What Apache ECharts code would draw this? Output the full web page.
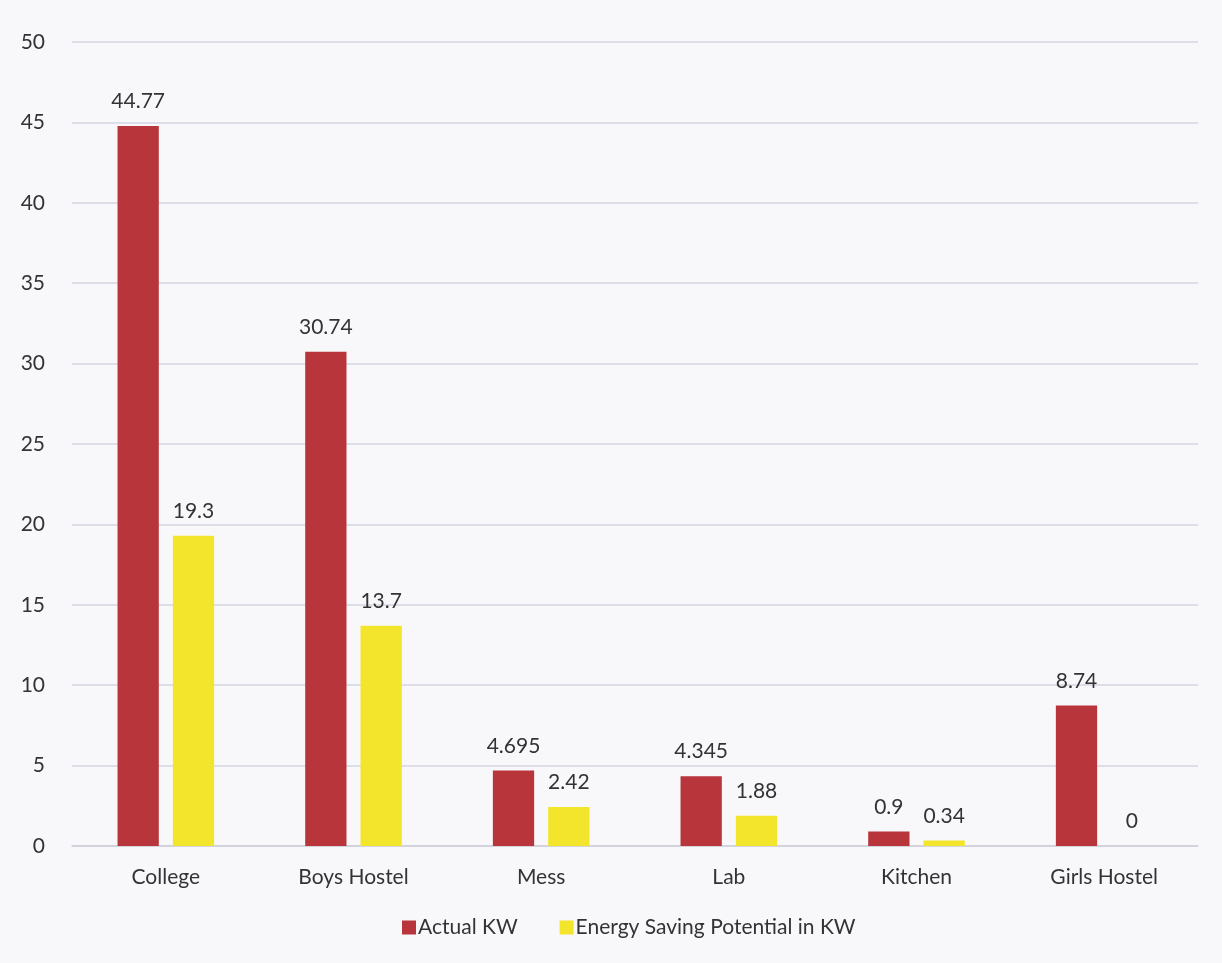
<!DOCTYPE html>
<html><head><meta charset="utf-8">
<script src="https://cdn.jsdelivr.net/npm/echarts@6/dist/echarts.min.js"></script>
<style>html,body{margin:0;padding:0;background:#f8f8fb;}#c{width:1222px;height:963px;}</style>
</head><body><div id="c"></div>
<script>
const categories = ['College','Boys Hostel','Mess','Lab','Kitchen','Girls Hostel'];
const actualKW = [44.77, 30.74, 4.695, 4.345, 0.9, 8.74];
const savingKW = [19.3, 13.7, 2.42, 1.88, 0.34, 0];
const seriesNames = ['Actual KW','Energy Saving Potential in KW'];
const yTicks = {min:0, max:50, interval:5};

const font = 'Lato, "Open Sans", sans-serif';
const chart = echarts.init(document.getElementById('c'));
chart.setOption({
  backgroundColor:'#f8f8fb',
  animation:false,
  textStyle:{fontFamily:font},
  grid:{left:72,right:24,top:42,bottom:117},
  legend:{bottom:20,left:397,itemWidth:14,itemHeight:14,itemGap:42,icon:'rect',
    textStyle:{fontSize:21,color:'#333',fontFamily:font,padding:[0,0,0,-3]}},
  xAxis:{type:'category',data:categories,
    axisLine:{lineStyle:{color:'#d0d0da',width:1.5}},axisTick:{show:false},
    axisLabel:{fontSize:21,color:'#333',margin:21,fontFamily:font}},
  yAxis:{type:'value',min:yTicks.min,max:yTicks.max,interval:yTicks.interval,
    axisLine:{show:false},axisTick:{show:false},
    splitLine:{lineStyle:{color:'#d6d6e2',width:1.5}},
    axisLabel:{fontSize:21,color:'#333',margin:27,fontFamily:font}},
  series:[
    {name:seriesNames[0],type:'bar',data:actualKW,barWidth:'22%',barGap:'34%',
     itemStyle:{color:'#b7353b'},
     label:{show:true,position:'top',distance:14,fontSize:21,color:'#333',fontFamily:font}},
    {name:seriesNames[1],type:'bar',data:savingKW,barWidth:'22%',
     itemStyle:{color:'#f2e52c'},
     label:{show:true,position:'top',distance:14,fontSize:21,color:'#333',fontFamily:font}}
  ]
});
</script></body></html>
